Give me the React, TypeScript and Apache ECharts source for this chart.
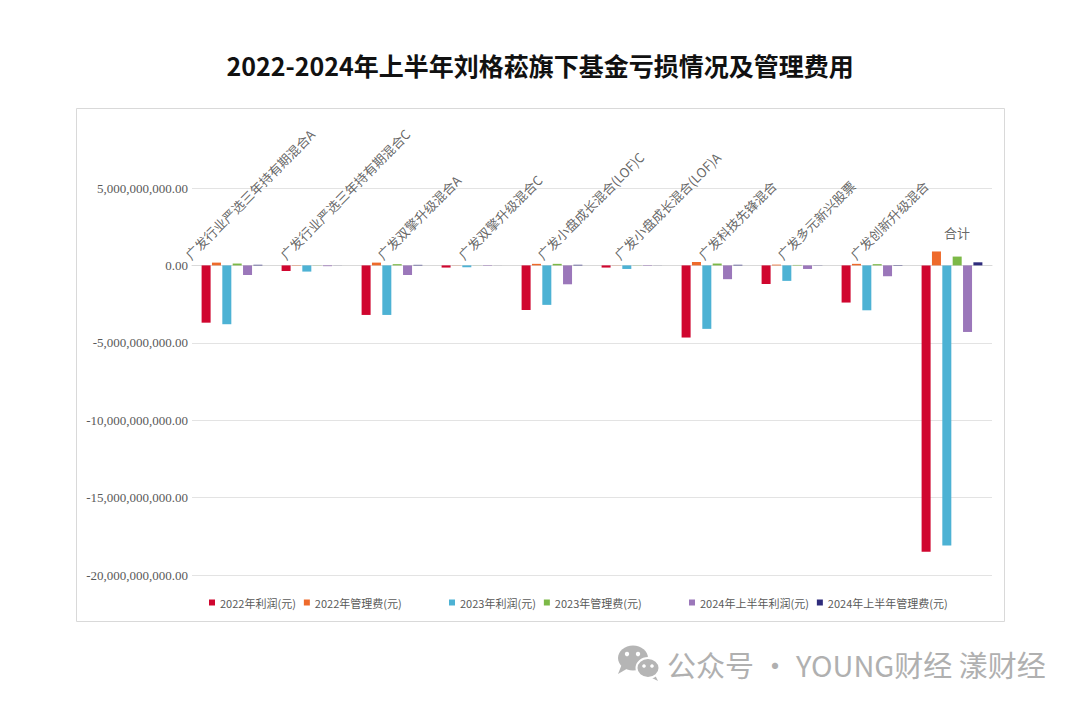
import React, { useEffect, useRef } from "react";
import * as echarts from "echarts";

const categories = [
  "广发行业严选三年持有期混合A",
  "广发行业严选三年持有期混合C",
  "广发双擎升级混合A",
  "广发双擎升级混合C",
  "广发小盘成长混合(LOF)C",
  "广发小盘成长混合(LOF)A",
  "广发科技先锋混合",
  "广发多元新兴股票",
  "广发创新升级混合",
  "合计",
];

const seriesNames = [
  "2022年利润(元)",
  "2022年管理费(元)",
  "2023年利润(元)",
  "2023年管理费(元)",
  "2024年上半年利润(元)",
  "2024年上半年管理费(元)",
];

const profit2022 = [-3.7e9, -0.36e9, -3.2e9, -0.14e9, -2.88e9, -0.14e9, -4.66e9, -1.2e9, -2.4e9, -18.5e9];
const fee2022 = [0.18e9, 0.02e9, 0.18e9, 0.01e9, 0.1e9, 0.01e9, 0.22e9, 0.05e9, 0.1e9, 0.9e9];
const profit2023 = [-3.8e9, -0.4e9, -3.2e9, -0.12e9, -2.55e9, -0.23e9, -4.1e9, -1.0e9, -2.9e9, -18.1e9];
const fee2023 = [0.12e9, 0.01e9, 0.08e9, 0.005e9, 0.1e9, 0.01e9, 0.12e9, 0.03e9, 0.08e9, 0.57e9];
const profit2024 = [-0.62e9, -0.05e9, -0.62e9, -0.03e9, -1.22e9, -0.03e9, -0.89e9, -0.23e9, -0.7e9, -4.3e9];
const fee2024 = [0.04e9, 0.005e9, 0.035e9, 0.003e9, 0.04e9, 0.005e9, 0.04e9, 0.012e9, 0.025e9, 0.2e9];

const yTicks = { min: -20e9, max: 5e9, interval: 5e9 };

// style: horizontal nudge of each rotated category label (px)
const labelNudge = [-40, -25, -8, -7, -8, -11, -7, -8, -15];

const colors = ["#D0062F", "#EE6A2B", "#4DB2D4", "#7CB947", "#9B77BA", "#2F2C7C"];

const CJK = "'Noto Sans CJK SC', 'Noto Sans', sans-serif";

export default function App() {
  const ref = useRef<HTMLDivElement>(null);

  useEffect(() => {
    if (!ref.current) return;
    const chart = echarts.init(ref.current, undefined, { renderer: "svg" });
    const values = [profit2022, fee2022, profit2023, fee2023, profit2024, fee2024];

    const barSeries = values.map((vals, i) => ({
      name: seriesNames[i],
      type: "bar",
      data: vals,
      barGap: "15%",
      barCategoryGap: "24%",
      itemStyle: { color: colors[i] },
      silent: true,
    }));

    const lastIdx = categories.length - 1;
    const labelSeries = {
      type: "scatter",
      symbolSize: 0.1,
      silent: true,
      z: 10,
      itemStyle: { color: "rgba(0,0,0,0)" },
      data: categories.map((c, i) =>
        i === lastIdx
          ? {
              value: 0,
              label: {
                show: true,
                formatter: c,
                rotate: 0,
                position: [5, -33],
                align: "center",
                verticalAlign: "middle",
              },
            }
          : {
              value: 0,
              label: {
                show: true,
                formatter: c,
                rotate: 45,
                position: [labelNudge[i], -4],
                align: "left",
                verticalAlign: "bottom",
              },
            }
      ),
      label: {
        show: true,
        color: "#404040",
        fontSize: 13,
        fontFamily: CJK,
      },
    };

    const legendBase = {
      top: 592,
      icon: "rect",
      itemWidth: 6,
      itemHeight: 6,
      itemGap: 8,
      selectedMode: false,
      textStyle: { color: "#595959", fontSize: 11, fontFamily: CJK },
    };

    const option = {
      animation: false,
      backgroundColor: "#ffffff",
      title: {
        text: "2022-2024年上半年刘格菘旗下基金亏损情况及管理费用",
        left: "center",
        top: 47,
        textStyle: { fontSize: 25, fontWeight: "bold", color: "#111", fontFamily: CJK },
      },
      legend: [
        { ...legendBase, left: 204, data: seriesNames.slice(0, 2) },
        { ...legendBase, left: 444, data: seriesNames.slice(2, 4) },
        { ...legendBase, left: 684, data: seriesNames.slice(4, 6) },
      ],
      grid: { left: 192, right: 88, top: 188, bottom: 132, containLabel: false },
      xAxis: {
        type: "category",
        data: categories,
        axisLine: { onZero: true, lineStyle: { color: "#d9d9d9" } },
        axisTick: { show: false },
        axisLabel: { show: false },
      },
      yAxis: {
        type: "value",
        min: yTicks.min,
        max: yTicks.max,
        interval: yTicks.interval,
        axisLine: { show: false },
        axisTick: { show: false },
        splitLine: { lineStyle: { color: "#e3e3e3" } },
        axisLabel: {
          color: "#595959",
          fontSize: 13,
          fontFamily: "'Liberation Serif', 'DejaVu Serif', serif",
          margin: 4,
          formatter: (v: number) =>
            v.toLocaleString("en-US", { minimumFractionDigits: 2, maximumFractionDigits: 2 }),
        },
      },
      series: [...barSeries, labelSeries],
      graphic: [
        {
          type: "rect",
          shape: { x: 76.5, y: 108.5, width: 928, height: 513 },
          style: { fill: "none", stroke: "#d9d9d9", lineWidth: 1 },
          silent: true,
          z: -10,
        },
        {
          type: "group",
          silent: true,
          children: [
            { type: "polygon", shape: { points: [[622, 664], [618, 674], [630, 667]] }, style: { fill: "#b5b5b5" } },
            { type: "ellipse", shape: { cx: 633, cy: 658, rx: 15, ry: 12.5 }, style: { fill: "#b5b5b5" } },
            { type: "circle", shape: { cx: 627, cy: 654, r: 2.2 }, style: { fill: "#fff" } },
            { type: "circle", shape: { cx: 638, cy: 654, r: 2.2 }, style: { fill: "#fff" } },
            { type: "polygon", shape: { points: [[654, 673], [658, 681], [648, 676]] }, style: { fill: "#b5b5b5" } },
            { type: "ellipse", shape: { cx: 648, cy: 668, rx: 11.5, ry: 10 }, style: { fill: "#b5b5b5", stroke: "#fff", lineWidth: 2 } },
            { type: "circle", shape: { cx: 644, cy: 666, r: 1.8 }, style: { fill: "#fff" } },
            { type: "circle", shape: { cx: 652, cy: 666, r: 1.8 }, style: { fill: "#fff" } },
          ],
        },
        {
          type: "text",
          x: 667,
          y: 664,
          silent: true,
          style: {
            text: "公众号 · YOUNG财经 漾财经",
            fill: "#b0b0b0",
            fontSize: 29,
            fontFamily: CJK,
            verticalAlign: "middle",
            align: "left",
          },
        },
      ],
    };

    chart.setOption(option as any);
    return () => chart.dispose();
  }, []);

  return (
    <div
      ref={ref}
      style={{ position: "fixed", left: 0, top: 0, width: 1080, height: 707 }}
    />
  );
}
